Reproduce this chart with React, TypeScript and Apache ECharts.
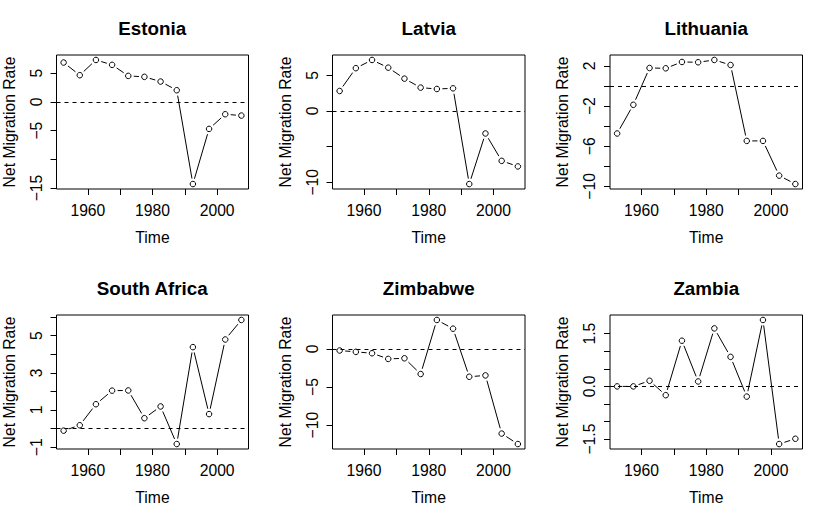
import React, { useEffect, useRef } from "react";
import * as echarts from "echarts";

const years = [1952.5, 1957.5, 1962.5, 1967.5, 1972.5, 1977.5, 1982.5, 1987.5, 1992.5, 1997.5, 2002.5, 2007.5];
const countries = ["Estonia", "Latvia", "Lithuania", "South Africa", "Zimbabwe", "Zambia"];

const estonia = [6.85, 4.65, 7.3, 6.45, 4.53, 4.36, 3.54, 2.03, -14.3, -4.7, -2.15, -2.38];
const latvia = [2.8, 6.0, 7.15, 6.07, 4.53, 3.27, 3.08, 3.17, -10.25, -3.16, -7.0, -7.78];
const lithuania = [-4.73, -1.87, 1.8, 1.77, 2.4, 2.37, 2.6, 2.1, -5.47, -5.47, -8.93, -9.77];
const southAfrica = [-0.11, 0.18, 1.31, 2.04, 2.05, 0.56, 1.19, -0.83, 4.38, 0.78, 4.79, 5.84];
const zimbabwe = [-0.22, -0.4, -0.58, -1.32, -1.24, -3.3, 3.78, 2.64, -3.66, -3.48, -11.1, -12.47];
const zambia = [0.0, 0.0, 0.16, -0.25, 1.3, 0.14, 1.65, 0.84, -0.29, 1.89, -1.64, -1.49];

const xTicks = [1960, 1970, 1980, 1990, 2000];
const xLabels = [1960, 1980, 2000];

const estoniaTicks = [-15, -10, -5, 0, 5];
const estoniaLabels = [-15, -5, 0, 5];
const latviaTicks = [-10, -5, 0, 5];
const latviaLabels = [-10, 0, 5];
const lithuaniaTicks = [-10, -8, -6, -4, -2, 0, 2];
const lithuaniaLabels = [-10, -6, -2, 2];
const southAfricaTicks = [-1, 0, 1, 2, 3, 4, 5, 6];
const southAfricaLabels = [-1, 1, 3, 5];
const zimbabweTicks = [-10, -5, 0];
const zimbabweLabels = [-10, -5, 0];
const zambiaTicks = [-1.5, -1, -0.5, 0, 0.5, 1, 1.5];
const zambiaLabels = [-1.5, 0, 1.5];

const seriesValues = [estonia, latvia, lithuania, southAfrica, zimbabwe, zambia];
const yTicksAll = [estoniaTicks, latviaTicks, lithuaniaTicks, southAfricaTicks, zimbabweTicks, zambiaTicks];
const yLabelsAll = [estoniaLabels, latviaLabels, lithuaniaLabels, southAfricaLabels, zimbabweLabels, zambiaLabels];
const yDecimals = [0, 0, 0, 0, 0, 1];

const FONT = "'Liberation Sans', Arial, Helvetica, sans-serif";
const FS = 15.7;

function fmt(v: number, dec: number) {
  const s = Math.abs(v).toFixed(dec);
  return v < 0 ? "\u2212" + s : s;
}

export default function App() {
  const ref = useRef<HTMLDivElement>(null);
  useEffect(() => {
    if (!ref.current) return;
    const chart = echarts.init(ref.current, null, { renderer: "svg" });
    const colLeft = [56, 332.5, 610];
    const rowTop = [55, 315];
    const W = 192.5;
    const H = 134;
    const grids: any[] = [];
    const xAxes: any[] = [];
    const yAxes: any[] = [];
    const series: any[] = [];
    const graphics: any[] = [];
    const xMin = years[0] - 0.04 * (years[years.length - 1] - years[0]);
    const xMax = years[years.length - 1] + 0.04 * (years[years.length - 1] - years[0]);
    const GAP = 5.5;

    countries.forEach((name, i) => {
      const r = Math.floor(i / 3);
      const c = i % 3;
      const vals = seriesValues[i];
      const lo = Math.min(...vals);
      const hi = Math.max(...vals);
      const ext = 0.04 * (hi - lo);
      grids.push({
        left: colLeft[c],
        top: rowTop[r],
        width: W,
        height: H,
        show: true,
        borderColor: "#000",
        borderWidth: 1,
        backgroundColor: "transparent",
        containLabel: false,
      });
      xAxes.push({
        type: "value",
        gridIndex: i,
        position: "bottom",
        min: xMin,
        max: xMax,
        splitLine: { show: false },
        axisLine: { show: false, onZero: false },
        axisTick: { show: true, inside: false, length: 6, lineStyle: { color: "#000", width: 1 }, customValues: xTicks },
        axisLabel: {
          customValues: xLabels,
          color: "#000",
          fontFamily: FONT,
          fontSize: FS,
          margin: 21,
          verticalAlign: "middle",
          formatter: (v: number) => String(v),
        },
        name: "Time",
        nameLocation: "middle",
        nameGap: 48,
        nameTextStyle: { color: "#000", fontFamily: FONT, fontSize: FS, verticalAlign: "middle", align: "center" },
      });
      const dec = yDecimals[i];
      yAxes.push({
        type: "value",
        gridIndex: i,
        position: "left",
        min: lo - ext,
        max: hi + ext,
        splitLine: { show: false },
        axisLine: { show: false, onZero: false },
        axisTick: { show: true, inside: false, length: 6, lineStyle: { color: "#000", width: 1 }, customValues: yTicksAll[i] },
        axisLabel: {
          customValues: yLabelsAll[i],
          rotate: 90,
          color: "#000",
          fontFamily: FONT,
          fontSize: FS,
          margin: 20.5,
          align: "center",
          verticalAlign: "middle",
          formatter: (v: number) => fmt(v, dec),
        },
        name: "Net Migration Rate",
        nameLocation: "middle",
        nameRotate: 90,
        nameGap: 47.5,
        nameTextStyle: { color: "#000", fontFamily: FONT, fontSize: FS, verticalAlign: "middle", align: "center" },
      });
      const segs: number[][] = [];
      for (let k = 0; k < years.length - 1; k++) {
        segs.push([years[k], vals[k], years[k + 1], vals[k + 1]]);
      }
      series.push({
        type: "custom",
        xAxisIndex: i,
        yAxisIndex: i,
        silent: true,
        encode: { x: [0, 2], y: [1, 3] },
        data: segs,
        renderItem: (params: any, api: any) => {
          const p1 = api.coord([api.value(0), api.value(1)]);
          const p2 = api.coord([api.value(2), api.value(3)]);
          const dx = p2[0] - p1[0];
          const dy = p2[1] - p1[1];
          const d = Math.sqrt(dx * dx + dy * dy);
          if (d <= 2 * GAP) return null;
          const ux = dx / d;
          const uy = dy / d;
          return {
            type: "line",
            shape: { x1: p1[0] + ux * GAP, y1: p1[1] + uy * GAP, x2: p2[0] - ux * GAP, y2: p2[1] - uy * GAP },
            style: { stroke: "#000", lineWidth: 1, fill: null },
          };
        },
        markLine: {
          silent: true,
          symbol: ["none", "none"],
          label: { show: false },
          lineStyle: { color: "#000", width: 1, type: [4, 4] },
          data: [{ yAxis: 0 }],
        },
      });
      series.push({
        type: "scatter",
        xAxisIndex: i,
        yAxisIndex: i,
        silent: true,
        symbol: "circle",
        symbolSize: 5.5,
        itemStyle: { color: "#fff", borderColor: "#000", borderWidth: 1, opacity: 1 },
        emphasis: { disabled: true },
        data: years.map((y, k) => [y, vals[k]]),
      });
      graphics.push({
        type: "text",
        x: colLeft[c] + W / 2,
        y: rowTop[r] - 27,
        style: {
          text: name,
          fill: "#000",
          font: `bold 18.8px ${FONT}`,
          textAlign: "center",
          textVerticalAlign: "middle",
        },
      });
    });

    chart.setOption({
      animation: false,
      backgroundColor: "#fff",
      grid: grids,
      xAxis: xAxes,
      yAxis: yAxes,
      series,
      graphic: graphics,
    });
    return () => chart.dispose();
  }, []);
  return (
    <div
      ref={ref}
      style={{ position: "fixed", left: 0, top: 0, width: 830, height: 519, background: "#fff" }}
    />
  );
}
